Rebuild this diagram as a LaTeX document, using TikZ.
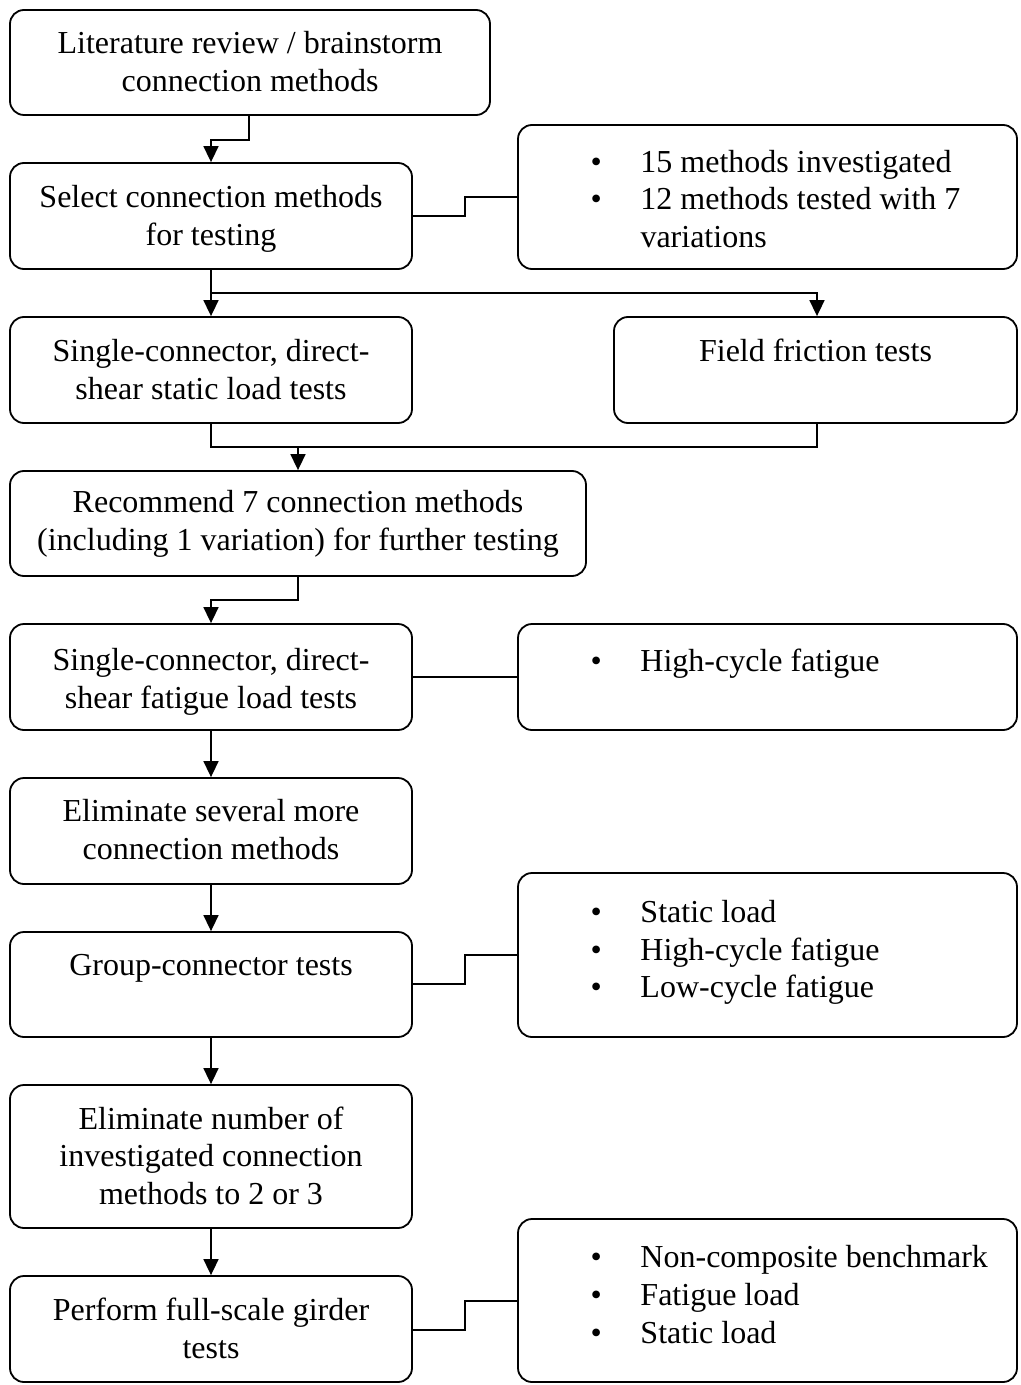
\documentclass[tikz,border=0pt]{standalone}
\usepackage{fontspec}
\setmainfont{Liberation Serif}
\usetikzlibrary{arrows.meta}
\begin{document}
\begin{tikzpicture}[x=0.5pt,y=-0.5pt,
  box/.style={draw,rounded corners=7pt,line width=0.9pt,inner sep=0pt,
    font=\fontsize{16}{18.9}\selectfont,align=center},
  conn/.style={line width=0.8pt},
  arr/.style={conn,-{Triangle[width=7.5pt,length=8pt]}}]
\useasboundingbox (0,0) rectangle (1021,1385);
% helper: box from corners
\newcommand{\bx}[6]{\node[box,minimum width=#3*0.5pt-#1*0.5pt,minimum height=#4*0.5pt-#2*0.5pt] (#5) at ({(#1+#3)/2},{(#2+#4)/2}) {#6};}
\newcommand{\ctext}[4]{\parbox[c][#1][t]{#2}{\centering\vspace*{#3}#4}}
\newcommand{\blist}[2]{\parbox[c][#1][t]{245pt}{\raggedright\leftskip=0pt\vspace{0pt}#2}}
\newcommand{\bit}[1]{\hspace*{59pt}\makebox[0pt][l]{\hspace*{-25pt}\textbullet}#1\par}

\bx{10}{10}{490}{115}{b1}{\ctext{43pt}{232pt}{6pt}{Literature review / brainstorm\\connection methods}}
\bx{10}{163}{412}{269}{b2}{\ctext{43pt}{195pt}{6pt}{Select connection methods\\for testing}}
\bx{518}{125}{1017}{269}{r1}{\blist{62pt}{\vspace*{7.5pt}\bit{15 methods investigated}\bit{12 methods tested with 7}\hspace*{59pt}variations\par}}
\bx{10}{317}{412}{423}{b3}{\ctext{43pt}{195pt}{6pt}{Single-connector, direct-\\shear static load tests}}
\bx{614}{317}{1017}{423}{f1}{\ctext{43pt}{195pt}{6pt}{Field friction tests}}
\bx{10}{471}{586}{576}{b4}{\ctext{43pt}{282pt}{5pt}{Recommend 7 connection methods\\(including 1 variation) for further testing}}
\bx{10}{624}{412}{730}{b5}{\ctext{43pt}{195pt}{7pt}{Single-connector, direct-\\shear fatigue load tests}}
\bx{518}{624}{1017}{730}{r2}{\blist{43pt}{\vspace*{7.5pt}\bit{High-cycle fatigue}}}
\bx{10}{778}{412}{884}{b6}{\ctext{43pt}{195pt}{5.5pt}{Eliminate several more\\connection methods}}
\bx{10}{932}{412}{1037}{b7}{\ctext{43pt}{195pt}{6.5pt}{Group-connector tests}}
\bx{518}{873}{1017}{1037}{r3}{\blist{72pt}{\vspace*{8.5pt}\bit{Static load}\bit{High-cycle fatigue}\bit{Low-cycle fatigue}}}
\bx{10}{1085}{412}{1228}{b8}{\ctext{68pt}{195pt}{9pt}{Eliminate number of\\investigated connection\\methods to 2 or 3}}
\bx{10}{1276}{412}{1382}{b9}{\ctext{43pt}{195pt}{6pt}{Perform full-scale girder\\tests}}
\bx{518}{1219}{1017}{1382}{r4}{\blist{72pt}{\vspace*{8.5pt}\bit{Non-composite benchmark}\bit{Fatigue load}\bit{Static load}}}

% connectors
\draw[arr] (b1.south -| 249,0) -- (249,140) -- (211,140) -- (b2.north);
\draw[conn] (b2.east |- 0,216) -- (465,216) -- (465,197) -- (r1.west |- 0,197);
\coordinate (s1) at (211,293);
\draw[arr] (b2.south) -- (b3.north);
\draw[arr] (s1) -- (817,293) -- (f1.north -| 817,0);
\coordinate (m1) at (298,447);
\draw[conn] (b3.south) -- (211,447) -- (817,447) -- (f1.south -| 817,0);
\draw[arr] (m1) -- (b4.north);
\draw[arr] (b4.south) -- (298,600) -- (211,600) -- (b5.north);
\draw[conn] (b5.east |- 0,677) -- (r2.west |- 0,677);
\draw[arr] (b5.south) -- (b6.north);
\draw[arr] (b6.south) -- (b7.north);
\draw[conn] (b7.east |- 0,984) -- (465,984) -- (465,955) -- (r3.west |- 0,955);
\draw[arr] (b7.south) -- (b8.north);
\draw[arr] (b8.south) -- (b9.north);
\draw[conn] (b9.east |- 0,1330) -- (465,1330) -- (465,1301) -- (r4.west |- 0,1301);
\end{tikzpicture}
\end{document}
